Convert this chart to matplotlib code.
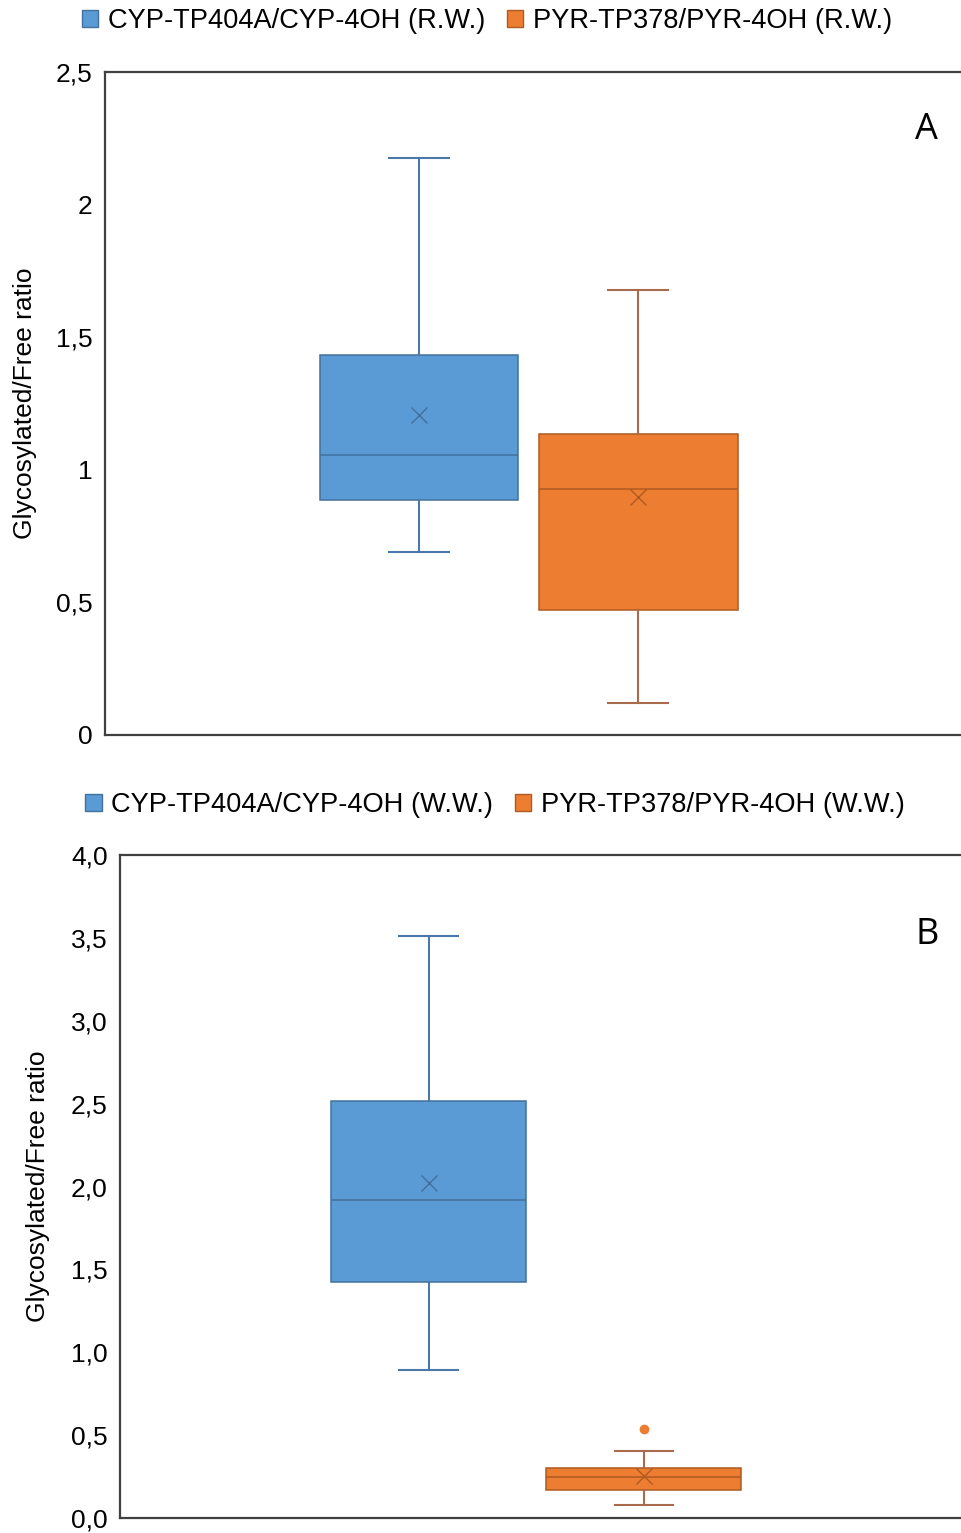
import matplotlib
matplotlib.use("Agg")
import matplotlib.pyplot as plt
from matplotlib.patches import Patch
from matplotlib.ticker import FuncFormatter

plt.rcParams['font.family'] = ['Liberation Sans', 'DejaVu Sans']

# ---- data ----
series_A = ["CYP-TP404A/CYP-4OH (R.W.)", "PYR-TP378/PYR-4OH (R.W.)"]
series_B = ["CYP-TP404A/CYP-4OH (W.W.)", "PYR-TP378/PYR-4OH (W.W.)"]
# whislo, q1, med, q3, whishi, mean
A_cyp = [0.69, 0.886, 1.056, 1.433, 2.176, 1.207]
A_pyr = [0.121, 0.471, 0.928, 1.135, 1.678, 0.897]
B_cyp = [0.893, 1.424, 1.919, 2.516, 3.511, 2.021]
B_pyr = [0.078, 0.169, 0.247, 0.302, 0.404, 0.253]
B_pyr_fliers = [0.537]
A_yticks = [0, 0.5, 1, 1.5, 2, 2.5]
B_yticks = [0, 0.5, 1.0, 1.5, 2.0, 2.5, 3.0, 3.5, 4.0]

fills = ["#5B9BD5", "#ED7D31"]
edges = ["#41719C", "#AE5A21"]
whisk = ["#4A78A8", "#A86C4C"]

W, H = 961, 1533
FS = 19
fig = plt.figure(figsize=(W / 100, H / 100), dpi=100)


def stat(v, fl=()):
    return dict(whislo=v[0], q1=v[1], med=v[2], q3=v[3], whishi=v[4], mean=v[5], fliers=list(fl))


def panel(rect, stats, ylim, yticks, fmt, letter, letter_xy, names, legend_xy, ylab_x):
    l, t, r, b = rect
    ax = fig.add_axes([l / W, 1 - b / H, (r - l) / W, (b - t) / H])
    positions = [0.367, 0.623]
    for i, s in enumerate(stats):
        ax.bxp([s], positions=[positions[i]], widths=0.232, capwidths=0.07,
               showmeans=True, meanline=False, patch_artist=True,
               boxprops=dict(facecolor=fills[i], edgecolor=edges[i], linewidth=1.1),
               medianprops=dict(color=edges[i], linewidth=1.1),
               whiskerprops=dict(color=whisk[i], linewidth=1.5),
               capprops=dict(color=whisk[i], linewidth=1.5),
               meanprops=dict(marker='x', markeredgecolor=edges[i], markersize=12,
                              markeredgewidth=1.0),
               flierprops=dict(marker='o', markerfacecolor=fills[i], markeredgecolor=fills[i],
                               markersize=6))
    ax.set_xlim(0, 1)
    ax.set_ylim(*ylim)
    ax.set_yticks(yticks)
    ax.yaxis.set_major_formatter(FuncFormatter(fmt))
    ax.set_xticks([])
    ax.tick_params(axis='y', length=0, labelsize=FS, colors='#000000', pad=9)
    ax.spines['right'].set_visible(False)
    for sp in ['top', 'left', 'bottom']:
        ax.spines[sp].set_color('#404040')
        ax.spines[sp].set_linewidth(1.6)
    ax.set_ylabel("Glycosylated/Free ratio", fontsize=FS)
    ax.yaxis.set_label_coords(ylab_x, 0.5)
    ax.text(letter_xy[0], letter_xy[1], letter, transform=ax.transAxes, fontsize=26,
            ha='center', va='center', family=['Open Sans', 'DejaVu Sans'])
    handles = [Patch(facecolor=fills[i], edgecolor=edges[i], label=names[i]) for i in range(2)]
    fig.legend(handles=handles, loc='center',
               bbox_to_anchor=(legend_xy[0] / W, 1 - legend_xy[1] / H),
               ncol=2, frameon=False, fontsize=19.6, handlelength=0.6, handleheight=0.6,
               handletextpad=0.35, columnspacing=0.8, borderpad=0)
    return ax


def fmtA(v, p):
    return ("%g" % v).replace('.', ',')


def fmtB(v, p):
    return ("%.1f" % v).replace('.', ',')


panel((105, 72, 961, 735), [stat(A_cyp), stat(A_pyr)], (0, 2.5), A_yticks, fmtA,
      "A", (0.960, 0.9125), series_A, (487, 21), -0.0794)
panel((120, 855, 961, 1518), [stat(B_cyp), stat(B_pyr, B_pyr_fliers)], (0, 4.0), B_yticks,
      fmtB, "B", (0.9596, 0.879), series_B, (495, 805), -0.0832)

fig.savefig("out.png", dpi=100)
